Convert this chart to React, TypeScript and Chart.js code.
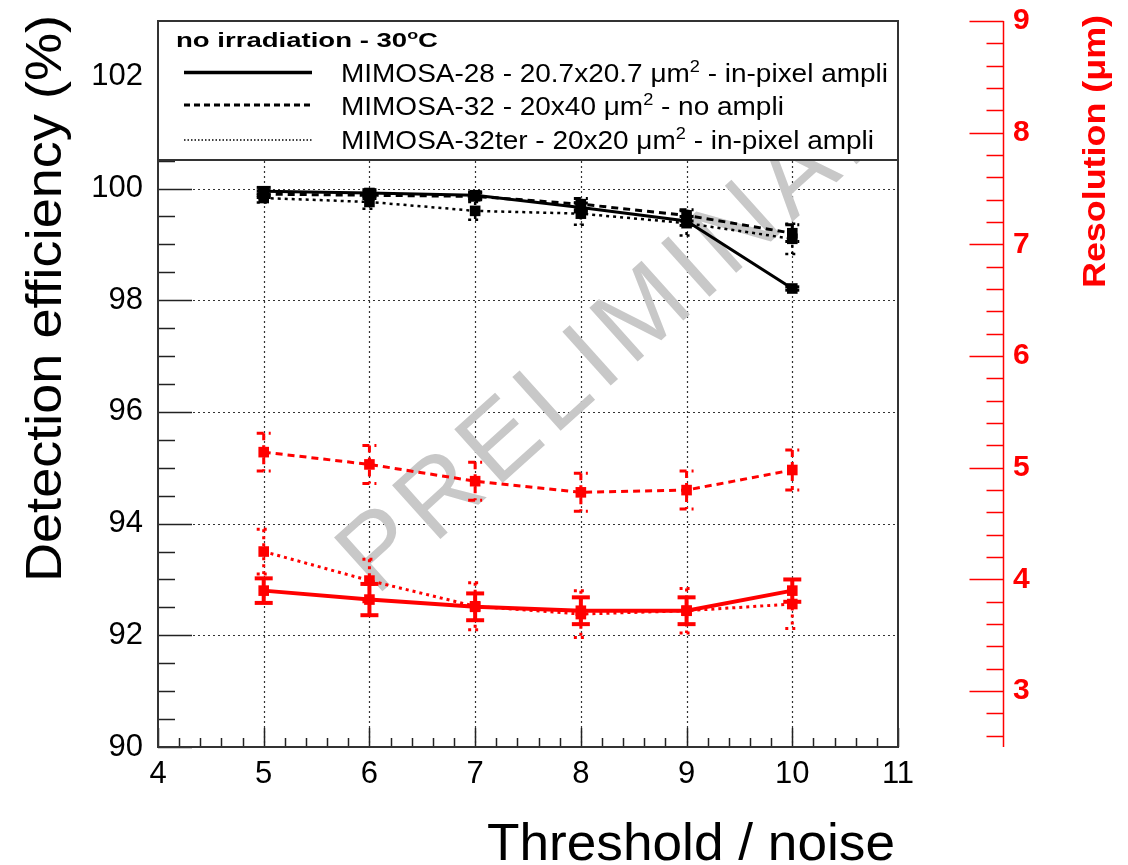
import React, { useEffect, useRef } from 'react';
import { Chart, registerables } from 'chart.js';

Chart.register(...registerables);

// ---------------- data ----------------
const THRESHOLDS = [5, 6, 7, 8, 9, 10];

const EFF_M28 = [99.95, 99.92, 99.88, 99.66, 99.42, 98.21];
const EFF_M28_ERR = [0.07, 0.06, 0.06, 0.08, 0.08, 0.03];
const EFF_M32 = [99.9, 99.88, 99.86, 99.72, 99.52, 99.2];
const EFF_M32_ERR = [0.06, 0.06, 0.06, 0.1, 0.1, 0.15];
const EFF_M32TER = [99.83, 99.76, 99.6, 99.55, 99.38, 99.1];
const EFF_M32TER_ERR = [0.08, 0.12, 0.16, 0.2, 0.22, 0.27];

const RES_M28 = [3.9, 3.82, 3.755, 3.72, 3.72, 3.9];
const RES_M28_ERR = [0.11, 0.14, 0.12, 0.12, 0.12, 0.1];
const RES_M32 = [5.14, 5.03, 4.88, 4.78, 4.8, 4.98];
const RES_M32_ERR = [0.17, 0.17, 0.17, 0.17, 0.17, 0.18];
const RES_M32TER = [4.25, 3.99, 3.76, 3.69, 3.72, 3.78];
const RES_M32TER_ERR = [0.2, 0.19, 0.21, 0.21, 0.2, 0.22];

const X_TICKS = [4, 5, 6, 7, 8, 9, 10, 11];
const EFF_TICKS = [90, 92, 94, 96, 98, 100, 102];
const RES_TICKS = [3, 4, 5, 6, 7, 8, 9];

const LEGEND_HEADER = 'no irradiation - 30^oC';
const SERIES_LABELS = [
  'MIMOSA-28 - 20.7x20.7 \u03bcm^2 - in-pixel ampli',
  'MIMOSA-32 - 20x40 \u03bcm^2 - no ampli',
  'MIMOSA-32ter - 20x20 \u03bcm^2 - in-pixel ampli',
];
const X_TITLE = 'Threshold / noise';
const Y_TITLE = 'Detection efficiency (%)';
const Y2_TITLE = 'Resolution (\u03bcm)';
const WATERMARK = 'PRELIMINARY';

// ---------------- styles ----------------
const FAMILY = '"Liberation Sans", Arial, Helvetica, sans-serif';
const RED = '#ff0000';
const BLACK = '#000000';
const LINE_STYLES = [
  { dash: [] as number[], legendDash: [] as number[], legendWidth: 3.5 },
  { dash: [7, 5], legendDash: [6, 4], legendWidth: 3 },
  { dash: [3, 4], legendDash: [1.5, 2], legendWidth: 1.6 },
];

type Seg = { text: string; sup: boolean };
function parseRich(s: string): Seg[] {
  const segs: Seg[] = [];
  let buf = '';
  for (let i = 0; i < s.length; i++) {
    if (s[i] === '^' && i + 1 < s.length) {
      if (buf) segs.push({ text: buf, sup: false });
      buf = '';
      segs.push({ text: s[i + 1], sup: true });
      i++;
    } else buf += s[i];
  }
  if (buf) segs.push({ text: buf, sup: false });
  return segs;
}
const fontStr = (size: number, weight: string) => `${weight} ${size}px ${FAMILY}`;
function richWidth(ctx: CanvasRenderingContext2D, segs: Seg[], size: number, weight: string) {
  let w = 0;
  for (const s of segs) {
    ctx.font = fontStr(s.sup ? size * 0.65 : size, weight);
    w += ctx.measureText(s.text).width;
  }
  return w;
}
function drawRich(
  ctx: CanvasRenderingContext2D,
  str: string,
  o: { x: number; y: number; size: number; weight?: string; color?: string; rotate?: number; width?: number; scaleX?: number; align?: 'left' | 'right' }
) {
  const weight = o.weight || 'normal';
  const segs = parseRich(str);
  const natural = richWidth(ctx, segs, o.size, weight);
  const sx = o.width ? o.width / natural : o.scaleX || 1;
  ctx.save();
  ctx.translate(o.x, o.y);
  if (o.rotate) ctx.rotate(o.rotate);
  ctx.scale(sx, 1);
  ctx.fillStyle = o.color || BLACK;
  ctx.textBaseline = 'alphabetic';
  ctx.textAlign = 'left';
  let cx = o.align === 'right' ? -natural : 0;
  for (const s of segs) {
    const sz = s.sup ? o.size * 0.65 : o.size;
    ctx.font = fontStr(sz, weight);
    ctx.fillText(s.text, cx, s.sup ? -o.size * 0.42 : 0);
    cx += ctx.measureText(s.text).width;
  }
  ctx.restore();
  return sx;
}

function seg(ctx: CanvasRenderingContext2D, x1: number, y1: number, x2: number, y2: number) {
  ctx.beginPath();
  ctx.moveTo(x1, y1);
  ctx.lineTo(x2, y2);
  ctx.stroke();
}

const LEGEND_BOTTOM = 160;

const decorPlugin = {
  id: 'decor',
  beforeDatasetsDraw(chart: any) {
    const { ctx, chartArea: a, scales } = chart;
    const xs = scales.x, ys = scales.y, y2 = scales.y2;
    ctx.save();
    // dotted grid
    ctx.strokeStyle = '#333';
    ctx.lineWidth = 1.2;
    ctx.setLineDash([2, 3]);
    for (const v of EFF_TICKS) {
      if (v <= ys.min || v >= ys.max) continue;
      const py = Math.round(ys.getPixelForValue(v)) + 0.5;
      seg(ctx, a.left, py, a.right, py);
    }
    for (const v of X_TICKS) {
      if (v <= xs.min || v >= xs.max) continue;
      const px = Math.round(xs.getPixelForValue(v)) + 0.5;
      seg(ctx, px, a.top, px, a.bottom);
    }
    ctx.setLineDash([]);
    // watermark (rotated, clipped to the frame)
    ctx.save();
    ctx.beginPath();
    ctx.rect(a.left, a.top, a.right - a.left, a.bottom - a.top);
    ctx.clip();
    ctx.translate(376, 597);
    ctx.rotate((-42 * Math.PI) / 180);
    ctx.font = fontStr(105, 'normal');
    ctx.fillStyle = '#c8c8c8';
    ctx.textAlign = 'left';
    ctx.textBaseline = 'alphabetic';
    let wx = 0;
    for (const ch of WATERMARK) {
      ctx.fillText(ch, wx, 0);
      wx += ctx.measureText(ch).width + 8;
    }
    ctx.restore();
    // ticks: left axis
    ctx.strokeStyle = '#222';
    ctx.lineWidth = 1.5;
    for (let k = 0; k <= 26; k++) {
      const v = 90 + k * 0.5;
      const py = Math.round(ys.getPixelForValue(v)) + 0.5;
      const len = EFF_TICKS.includes(v) ? 34 : 17;
      seg(ctx, a.left, py, a.left + len, py);
    }
    // ticks: x axis
    for (let k = 0; k <= 35; k++) {
      const v = Math.round((4 + k * 0.2) * 10) / 10;
      const px = Math.round(xs.getPixelForValue(v)) + 0.5;
      const len = X_TICKS.includes(v) ? 19 : 9;
      seg(ctx, px, a.bottom, px, a.bottom - len);
    }
    // right axis
    ctx.strokeStyle = RED;
    const rx = Math.round(y2.left) + 0.5;
    seg(ctx, rx, y2.top, rx, y2.bottom);
    for (let k = 13; k <= 45; k++) {
      const v = Math.round(k * 2) / 10;
      const py = Math.round(y2.getPixelForValue(v)) + 0.5;
      const len = RES_TICKS.includes(v) ? 34 : 17;
      seg(ctx, rx - len, py, rx, py);
    }
    ctx.restore();
  },
  afterDatasetsDraw(chart: any) {
    const { ctx, chartArea: a, scales } = chart;
    const xs = scales.x;
    ctx.save();
    // error bars
    chart.data.datasets.forEach((ds: any) => {
      const yScale = scales[ds.yAxisID];
      ctx.strokeStyle = ds.borderColor;
      ctx.lineWidth = ds.borderWidth;
      ctx.setLineDash(ds.borderDash || []);
      ds.data.forEach((p: any, i: number) => {
        const e = ds.errorBars[i];
        const px = xs.getPixelForValue(p.x);
        const yTop = yScale.getPixelForValue(p.y + e);
        const yBot = yScale.getPixelForValue(p.y - e);
        seg(ctx, px, yTop, px, yBot);
        const cw = ds.capHalf;
        seg(ctx, px - cw, yTop, px + cw, yTop);
        seg(ctx, px - cw, yBot, px + cw, yBot);
      });
    });
    ctx.setLineDash([]);
    // legend box
    ctx.fillStyle = '#fff';
    ctx.fillRect(a.left, a.top, a.right - a.left, LEGEND_BOTTOM - a.top);
    ctx.strokeStyle = '#333';
    ctx.lineWidth = 2;
    seg(ctx, a.left, LEGEND_BOTTOM, a.right, LEGEND_BOTTOM);
    drawRich(ctx, LEGEND_HEADER, { x: 176, y: 47, size: 20, weight: 'bold', width: 262 });
    const rowBase = [82, 115, 149];
    const lineY = [72.5, 105, 140];
    let sx = 1;
    SERIES_LABELS.forEach((lab, i) => {
      const st = LINE_STYLES[i];
      ctx.strokeStyle = BLACK;
      ctx.lineWidth = st.legendWidth;
      ctx.setLineDash(st.legendDash);
      seg(ctx, 184, lineY[i], 312, lineY[i]);
      ctx.setLineDash([]);
      if (i === 0) sx = drawRich(ctx, lab, { x: 341, y: rowBase[i], size: 25, width: 547 });
      else drawRich(ctx, lab, { x: 341, y: rowBase[i], size: 25, scaleX: sx });
    });
    // frame
    ctx.strokeStyle = '#333';
    ctx.lineWidth = 2;
    ctx.strokeRect(a.left, a.top, a.right - a.left, a.bottom - a.top);
    // axis titles
    drawRich(ctx, Y_TITLE, { x: 61, y: 582, size: 50, rotate: -Math.PI / 2, width: 567 });
    drawRich(ctx, Y2_TITLE, { x: 1105, y: 288, size: 32, weight: 'bold', color: RED, rotate: -Math.PI / 2, width: 273 });
    drawRich(ctx, X_TITLE, { x: 895, y: 860, size: 52, width: 408, align: 'right' });
    ctx.restore();
  },
};

function makeSeries(ys: number[], errs: number[], color: string, styleIdx: number, width: number, axis: string, capHalf: number) {
  return {
    data: THRESHOLDS.map((x, i) => ({ x, y: ys[i] })),
    yAxisID: axis,
    xAxisID: 'x',
    borderColor: color,
    backgroundColor: color,
    borderWidth: width,
    borderDash: LINE_STYLES[styleIdx].dash,
    pointStyle: 'rect',
    pointRadius: 7.5,
    pointBackgroundColor: color,
    pointBorderColor: color,
    pointBorderWidth: 0,
    tension: 0,
    fill: false,
    errorBars: errs,
    capHalf,
  };
}

const noPadV = (s: any) => { s.paddingTop = 0; s.paddingBottom = 0; };

export default function App() {
  const ref = useRef<HTMLCanvasElement | null>(null);
  useEffect(() => {
    if (!ref.current) return;
    const tickFont = { family: FAMILY, size: 31 };
    const chart = new Chart(ref.current, {
      type: 'line',
      data: {
        datasets: [
          makeSeries(RES_M28, RES_M28_ERR, RED, 0, 4, 'y2', 9),
          makeSeries(RES_M32, RES_M32_ERR, RED, 1, 3, 'y2', 7),
          makeSeries(RES_M32TER, RES_M32TER_ERR, RED, 2, 3, 'y2', 7),
          makeSeries(EFF_M28, EFF_M28_ERR, BLACK, 0, 3, 'y', 7),
          makeSeries(EFF_M32, EFF_M32_ERR, BLACK, 1, 3, 'y', 7),
          makeSeries(EFF_M32TER, EFF_M32TER_ERR, BLACK, 2, 2.5, 'y', 7),
        ] as any,
      },
      options: {
        animation: false,
        responsive: true,
        maintainAspectRatio: false,
        devicePixelRatio: 1,
        events: [],
        layout: { padding: { top: 21, left: 0, right: 0, bottom: 0 } },
        plugins: { legend: { display: false }, tooltip: { enabled: false }, title: { display: false } },
        scales: {
          x: {
            type: 'linear',
            position: 'bottom',
            min: 4,
            max: 11,
            afterBuildTicks: (s: any) => { s.ticks = X_TICKS.map((v) => ({ value: v })); },
            afterFit: (s: any) => { s.height = 118; s.paddingLeft = 0; s.paddingRight = 0; },
            grid: { display: false, drawTicks: false },
            border: { display: false },
            ticks: { font: tickFont, color: '#000', padding: 9, maxRotation: 0, autoSkip: false, callback: (v: any) => String(v) },
          },
          y: {
            type: 'linear',
            position: 'left',
            min: 90,
            max: 103,
            afterBuildTicks: (s: any) => { s.ticks = EFF_TICKS.map((v) => ({ value: v })); },
            afterFit: (s: any) => { s.width = 158; noPadV(s); },
            grid: { display: false, drawTicks: false },
            border: { display: false },
            ticks: { font: tickFont, color: '#000', padding: 15, autoSkip: false, callback: (v: any) => String(v) },
          },
          gap: {
            type: 'linear',
            position: 'right',
            weight: 0,
            display: true,
            afterFit: (s: any) => { s.width = 105; noPadV(s); },
            grid: { display: false, drawTicks: false },
            border: { display: false },
            ticks: { display: false },
          },
          y2: {
            type: 'linear',
            position: 'right',
            weight: 5,
            min: 2.5,
            max: 9,
            afterBuildTicks: (s: any) => { s.ticks = RES_TICKS.map((v) => ({ value: v })); },
            afterFit: (s: any) => { s.width = 125; noPadV(s); },
            grid: { display: false, drawTicks: false },
            border: { display: false },
            ticks: { font: { family: FAMILY, size: 30, weight: 'bold' }, color: RED, padding: 10, autoSkip: false, callback: (v: any) => String(v) },
          },
        } as any,
      },
      plugins: [decorPlugin as any],
    });
    return () => chart.destroy();
  }, []);
  return (
    <div style={{ position: 'fixed', left: 0, top: 0, width: 1128, height: 865, background: '#fff' }}>
      <canvas ref={ref} width={1128} height={865} />
    </div>
  );
}
